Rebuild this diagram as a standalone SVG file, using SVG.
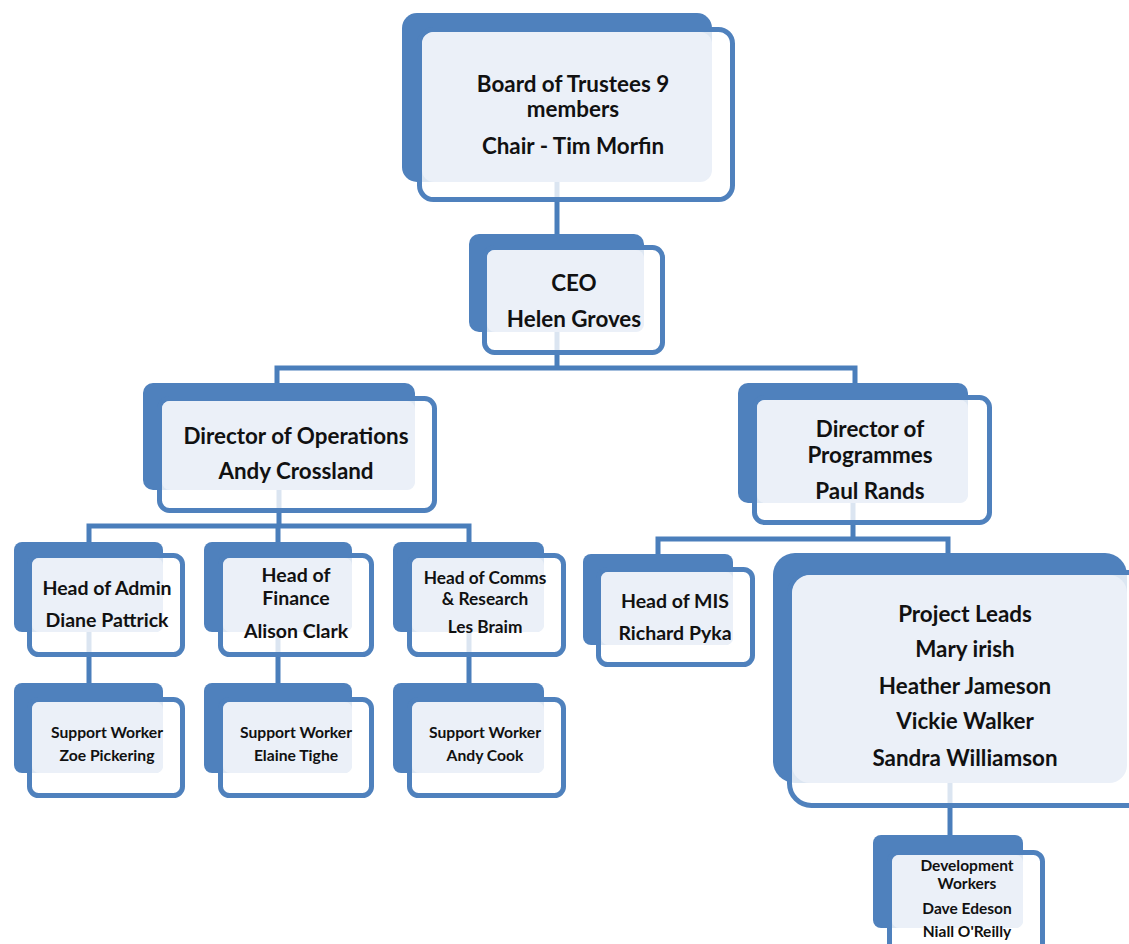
<svg xmlns="http://www.w3.org/2000/svg" width="1129" height="944" viewBox="0 0 1129 944">
<style>
.bk{fill:#4F81BD}
.fr{fill:#FFFFFF;fill-opacity:0.8;stroke:#4F81BD;stroke-width:5}
.lt{fill:#EBF0F8}
.cn{fill:none;stroke:#4A7EBB;stroke-width:5}
text{font-family:Lato,"Liberation Sans",sans-serif;font-weight:bold;fill:#111;text-anchor:middle;dominant-baseline:central}
.t22{font-size:22.4px}.t19{font-size:19.5px}.t17{font-size:17.3px}.t15{font-size:15.7px}.t14{font-size:15.5px}
</style>
<rect width="1129" height="944" fill="#FFFFFF"/>
<g id="connectors">
<path class="cn" d="M557,182V236"/>
<path class="cn" d="M557,332V368M277,385V368H855V385"/>
<path class="cn" d="M279,490V526M89,544V526H469V544M278,526V544"/>
<path class="cn" d="M89,632V685M278,632V685M469,632V685"/>
<path class="cn" d="M853,503V539M658,556V539H948V555"/>
<path class="cn" d="M950,783V837"/>
</g>
<g id="board">
<rect class="bk" x="402" y="13" width="310" height="169" rx="15"/>
<rect class="fr" x="419.5" y="29.5" width="313" height="170" rx="14"/>
<rect class="lt" x="422" y="32" width="290" height="150" rx="12"/>
<text class="t22" x="573" y="83">Board of Trustees 9</text>
<text class="t22" x="573" y="108">members</text>
<text class="t22" x="573" y="145">Chair - Tim Morfin</text>
</g>
<g id="ceo">
<rect class="bk" x="469" y="234" width="175" height="98" rx="10"/>
<rect class="fr" x="484.5" y="247.5" width="178" height="105" rx="10"/>
<rect class="lt" x="487" y="250" width="157" height="82" rx="8"/>
<text class="t22" x="574" y="282">CEO</text>
<text class="t22" x="574" y="318">Helen Groves</text>
</g>
<g id="dir-ops">
<rect class="bk" x="143" y="383" width="272" height="107" rx="10"/>
<rect class="fr" x="159.5" y="398.5" width="275" height="112" rx="10"/>
<rect class="lt" x="162" y="401" width="253" height="89" rx="8"/>
<text class="t22" x="296" y="435">Director of Operations</text>
<text class="t22" x="296" y="470">Andy Crossland</text>
</g>
<g id="dir-prog">
<rect class="bk" x="738" y="383" width="230" height="120" rx="10"/>
<rect class="fr" x="754.5" y="397.5" width="235" height="125" rx="10"/>
<rect class="lt" x="757" y="400" width="211" height="103" rx="8"/>
<text class="t22" x="870" y="428">Director of</text>
<text class="t22" x="870" y="454">Programmes</text>
<text class="t22" x="870" y="490">Paul Rands</text>
</g>
<g id="head-admin">
<rect class="bk" x="14" y="542" width="149" height="90" rx="8"/>
<rect class="fr" x="29.5" y="555.5" width="153" height="99" rx="9"/>
<rect class="lt" x="32" y="558" width="131" height="74" rx="7"/>
<text class="t19" x="107" y="587">Head of Admin</text>
<text class="t19" x="107" y="619">Diane Pattrick</text>
</g>
<g id="head-finance">
<rect class="bk" x="204" y="542" width="148" height="90" rx="8"/>
<rect class="fr" x="220.5" y="555.5" width="151" height="99" rx="9"/>
<rect class="lt" x="223" y="558" width="129" height="74" rx="7"/>
<text class="t19" x="296" y="574">Head of</text>
<text class="t19" x="296" y="597">Finance</text>
<text class="t19" x="296" y="630">Alison Clark</text>
</g>
<g id="head-comms">
<rect class="bk" x="393" y="542" width="151" height="90" rx="8"/>
<rect class="fr" x="409.5" y="555.5" width="154" height="99" rx="9"/>
<rect class="lt" x="412" y="558" width="132" height="74" rx="7"/>
<text class="t17" x="485" y="577">Head of Comms</text>
<text class="t17" x="485" y="598">&amp; Research</text>
<text class="t17" x="485" y="626">Les Braim</text>
</g>
<g id="support-admin">
<rect class="bk" x="14" y="683" width="149" height="90" rx="8"/>
<rect class="fr" x="29.5" y="699.5" width="153" height="96" rx="9"/>
<rect class="lt" x="32" y="702" width="131" height="71" rx="7"/>
<text class="t15" x="107" y="732">Support Worker</text>
<text class="t15" x="107" y="755">Zoe Pickering</text>
</g>
<g id="support-finance">
<rect class="bk" x="204" y="683" width="148" height="90" rx="8"/>
<rect class="fr" x="220.5" y="699.5" width="151" height="96" rx="9"/>
<rect class="lt" x="223" y="702" width="129" height="71" rx="7"/>
<text class="t15" x="296" y="732">Support Worker</text>
<text class="t15" x="296" y="755">Elaine Tighe</text>
</g>
<g id="support-comms">
<rect class="bk" x="393" y="683" width="151" height="90" rx="8"/>
<rect class="fr" x="409.5" y="699.5" width="154" height="96" rx="9"/>
<rect class="lt" x="412" y="702" width="132" height="71" rx="7"/>
<text class="t15" x="485" y="732">Support Worker</text>
<text class="t15" x="485" y="755">Andy Cook</text>
</g>
<g id="head-mis">
<rect class="bk" x="583" y="554" width="150" height="91" rx="8"/>
<rect class="fr" x="598.5" y="569.5" width="154" height="95" rx="9"/>
<rect class="lt" x="601" y="572" width="132" height="73" rx="7"/>
<text class="t19" x="675" y="600">Head of MIS</text>
<text class="t19" x="675" y="632">Richard Pyka</text>
</g>
<g id="project-leads">
<rect class="bk" x="773" y="553" width="354" height="230" rx="22"/>
<rect class="fr" x="789.5" y="572.5" width="370" height="233" rx="22"/>
<rect class="lt" x="792" y="575" width="335" height="208" rx="18"/>
<text class="t22" x="965" y="613">Project Leads</text>
<text class="t22" x="965" y="648">Mary irish</text>
<text class="t22" x="965" y="685">Heather Jameson</text>
<text class="t22" x="965" y="720">Vickie Walker</text>
<text class="t22" x="965" y="757">Sandra Williamson</text>
</g>
<g id="dev-workers">
<rect class="bk" x="873" y="835" width="150" height="93" rx="8"/>
<rect class="fr" x="889.5" y="852.5" width="153" height="110" rx="9"/>
<rect class="lt" x="892" y="855" width="131" height="73" rx="7"/>
<text class="t14" x="967" y="865">Development</text>
<text class="t14" x="967" y="883">Workers</text>
<text class="t14" x="967" y="908">Dave Edeson</text>
<text class="t14" x="967" y="931">Niall O'Reilly</text>
</g>
</svg>
